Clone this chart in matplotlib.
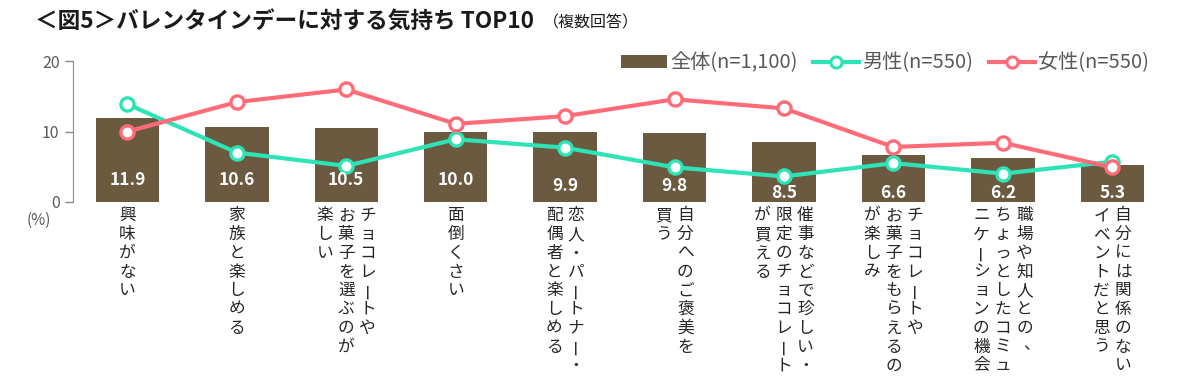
import matplotlib
matplotlib.use("Agg")
import matplotlib.pyplot as plt
from matplotlib.lines import Line2D
from matplotlib.patches import Patch

plt.rcParams['font.family'] = ['Noto Sans CJK JP', 'DejaVu Sans']

# data
categories = [
    "興味がない",
    "家族と楽しめる",
    "チョコレートや\nお菓子を選ぶのが\n楽しい",
    "面倒くさい",
    "恋人・パートナー・\n配偶者と楽しめる",
    "自分へのご褒美を\n買う",
    "催事などで珍しい・\n限定のチョコレート\nが買える",
    "チョコレートや\nお菓子をもらえるの\nが楽しみ",
    "職場や知人との、\nちょっとしたコミュ\nニケーションの機会",
    "自分には関係のない\nイベントだと思う",
]
total = [11.9, 10.6, 10.5, 10.0, 9.9, 9.8, 8.5, 6.6, 6.2, 5.3]
male = [13.9, 7.0, 5.1, 8.9, 7.7, 4.9, 3.6, 5.5, 4.0, 5.7]
female = [10.0, 14.2, 16.0, 11.1, 12.2, 14.6, 13.3, 7.8, 8.4, 4.9]

brown = '#6B5940'
green = '#2EE3B5'
pink = '#FF6B77'
gray = '#595959'

W, H = 1200, 380
fig = plt.figure(figsize=(12, 3.8), dpi=100)
ax = fig.add_axes([72.7 / W, 1 - 201.7 / H, (1167 - 72.7) / W, (201.7 - 61.4) / H])

x = list(range(len(categories)))
ax.bar(x, total, width=0.58, color=brown, zorder=2)
ax.plot(x, male, color=green, lw=3, marker='o', ms=9.5, mfc='white', mec=green, mew=2.4, zorder=3)
ax.plot(x, female, color=pink, lw=3, marker='o', ms=9.5, mfc='white', mec=pink, mew=2.4, zorder=4)

# value labels inside bars (pushed lower on shorter bars so the lines stay clear)
for i, v in enumerate(total):
    if v >= 10:
        ly = 3.1
    elif v >= 9.5:
        ly = 2.3
    else:
        ly = 1.2
    ax.text(i, ly, f"{v:.1f}", ha='center', va='center', color='white',
            fontsize=12.5, fontweight='bold', zorder=5)

ax.set_xlim(-0.5, 9.5)
ax.set_ylim(0, 20)
ax.set_yticks([0, 10, 20])
ax.set_xticks([])
for s in ['top', 'right', 'bottom']:
    ax.spines[s].set_visible(False)
ax.spines['left'].set_color('#8C8C8C')
ax.tick_params(axis='y', colors='#8C8C8C', labelcolor=gray, labelsize=11.5, length=6, width=1)

ax.text(-0.02, -0.13, "(%)", transform=ax.transAxes, ha='right', va='center', color=gray, fontsize=11)

# vertical category labels, columns right to left
step = 13.5
colgap = 15.5
for i, lab in enumerate(categories):
    cols = lab.split("\n")
    n = len(cols)
    for j, col in enumerate(cols):
        dx = ((n - 1) / 2 - j) * colgap
        for k, ch in enumerate(col):
            rot = 0
            ox, oy = dx, -4 - k * step
            if ch == 'ー':
                rot = 90
            if ch == '、':
                ox += 5
                oy += 2
            ax.annotate(ch, xy=(i, 0), xycoords=('data', 'axes fraction'),
                        xytext=(ox, oy), textcoords='offset points',
                        ha='center', va='top', rotation=rot,
                        fontsize=12, color='#262626', annotation_clip=False)

# legend
handles = [
    Patch(facecolor=brown, label='全体(n=1,100)'),
    Line2D([], [], color=green, lw=3, marker='o', ms=8, mfc='white', mec=green, mew=2.2, label='男性(n=550)'),
    Line2D([], [], color=pink, lw=3, marker='o', ms=8, mfc='white', mec=pink, mew=2.2, label='女性(n=550)'),
]
leg = fig.legend(handles=handles, loc='center right', bbox_to_anchor=(1167 / W, 1 - 63 / H),
                 ncol=3, frameon=False, fontsize=14.5, handlelength=2.3, handleheight=0.6,
                 handletextpad=0.15, columnspacing=0.75, labelcolor=gray)

# title
fig.text(35 / W, 1 - 22 / H, "＜図5＞バレンタインデーに対する気持ち TOP10", ha='left', va='center',
         fontsize=16.3, fontweight='bold', color='#1A1A1A')
fig.text(543 / W, 1 - 23 / H, "（複数回答）", ha='left', va='center', fontsize=11.5, color='#1A1A1A')

fig.savefig('out.png', dpi=100)
